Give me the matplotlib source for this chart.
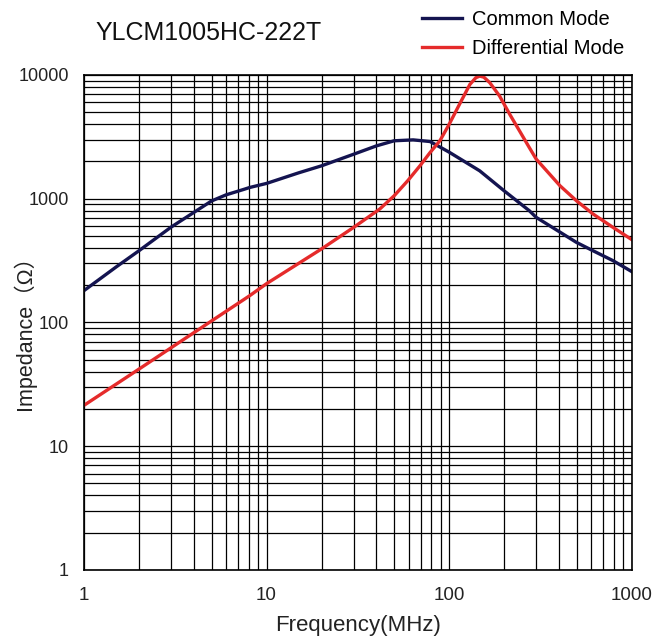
import matplotlib
matplotlib.use("Agg")
import matplotlib.pyplot as plt
from matplotlib.ticker import LogLocator, NullFormatter, FixedLocator, FixedFormatter

title = "YLCM1005HC-222T"
series_names = ["Common Mode", "Differential Mode"]

cm_freq = [1, 1.5, 2, 3, 4, 5, 6, 7.5, 8.1, 10, 15, 20, 30, 40, 50, 63.5, 78.6, 100, 147, 200, 275, 300, 405, 498, 614, 790, 1000]
cm_imp = [181, 281, 380, 590, 776, 960, 1075, 1190, 1234, 1330, 1620, 1845, 2290, 2675, 2940, 2990, 2900, 2380, 1682, 1160, 800, 707, 537, 444, 380, 316, 258]

dm_freq = [1, 2, 5, 8.1, 10, 20, 30, 41.7, 50, 59.3, 69.2, 78.6, 89, 100, 114, 130, 140, 147, 155, 167, 189, 215, 243, 275, 300, 405, 498, 614, 790, 1000]
dm_imp = [21.4, 42, 103, 165, 206, 393, 587, 826, 1057, 1397, 1845, 2360, 2940, 3990, 5800, 8400, 9500, 9800, 9600, 8670, 6760, 4800, 3535, 2590, 2090, 1273, 964, 753, 587, 468]

xticks = [1, 10, 100, 1000]
xticklabels = ["1", "10", "100", "1000"]
yticks = [1, 10, 100, 1000, 10000]
yticklabels = ["1", "10", "100", "1000", "10000"]

plt.rcParams['font.family'] = ['Liberation Sans', 'Noto Sans CJK SC', 'DejaVu Sans']

fig = plt.figure(figsize=(6.72, 6.41), dpi=100)
ax = fig.add_axes([0.125, 0.1108, 0.815, 0.7722])

ax.plot(cm_freq, cm_imp, color="#141450", lw=2.4, label=series_names[0], solid_joinstyle="round")
ax.plot(dm_freq, dm_imp, color="#e52b2b", lw=2.4, label=series_names[1], solid_joinstyle="round")

ax.set_xscale("log")
ax.set_yscale("log")
ax.set_xlim(1, 1000)
ax.set_ylim(1, 10000)

ax.xaxis.set_major_locator(FixedLocator(xticks))
ax.xaxis.set_major_formatter(FixedFormatter(xticklabels))
ax.yaxis.set_major_locator(FixedLocator(yticks))
ax.yaxis.set_major_formatter(FixedFormatter(yticklabels))
ax.xaxis.set_minor_locator(LogLocator(base=10, subs=range(2, 10)))
ax.yaxis.set_minor_locator(LogLocator(base=10, subs=range(2, 10)))
ax.xaxis.set_minor_formatter(NullFormatter())
ax.yaxis.set_minor_formatter(NullFormatter())

ax.grid(True, which="both", color="black", lw=0.9)
ax.set_axisbelow(True)
ax.tick_params(which="both", length=0)
ax.tick_params(axis="x", pad=12, labelsize=13.5, labelcolor="#222222")
ax.tick_params(axis="y", pad=11, labelsize=13, labelcolor="#222222")
for s in ax.spines.values():
    s.set_color("black")
    s.set_linewidth(1.2)

ax.set_xlabel("Frequency(MHz)", fontsize=16, color="#222222")
ax.xaxis.set_label_coords(0.5, -(626 - 570) / 495, transform=ax.transAxes)
ax.xaxis.label.set_va("center")
ax.set_ylabel("Impedance（Ω）", fontsize=15.5, color="#222222")
ax.yaxis.set_label_coords((24 - 84) / 548, (570 - 327) / 495, transform=ax.transAxes)
ax.yaxis.label.set_va("center")

fig.text(95/672, 1 - 33/641, title, fontsize=18, va="center", ha="left", color="#111111")

leg = fig.legend(loc="upper left", bbox_to_anchor=(422/672, 1 - 10/641), frameon=False,
                 fontsize=14.5, handlelength=2.0, handletextpad=0.5, labelspacing=0.5,
                 borderpad=0, borderaxespad=0)

fig.savefig("out.png", dpi=100)
